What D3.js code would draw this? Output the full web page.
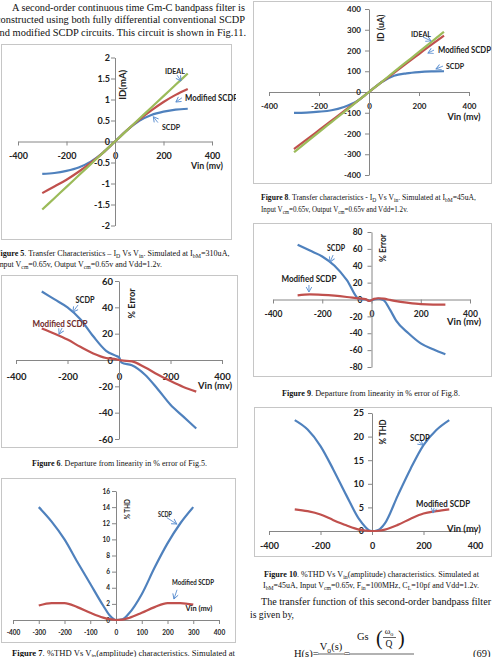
<!DOCTYPE html>
<html>
<head>
<meta charset="utf-8">
<script src="https://cdn.jsdelivr.net/npm/d3@7/dist/d3.min.js"></script>
<style>
  body { margin: 0; background: #fff; overflow: hidden; }
  svg { display: block; }
</style>
</head>
<body>
<div id="page"></div>
<script>
// ---- values ----
const vin = [-300, -250, -200, -150, -100, -50, 0, 50, 100, 150, 200, 250, 300];

// Fig.5  ID (mA) vs Vin (mV)
const idealMA    = [-1.62, -1.35, -1.08, -0.81, -0.54, -0.27, 0, 0.27, 0.54, 0.81, 1.08, 1.35, 1.62];
const modifiedMA = [-1.23, -1.07, -0.91, -0.72, -0.51, -0.27, 0, 0.27, 0.52, 0.74, 0.94, 1.11, 1.25];
const scdpMA     = [-0.77, -0.75, -0.70, -0.62, -0.48, -0.27, 0, 0.27, 0.49, 0.63, 0.71, 0.76, 0.78];

// Fig.8  ID (uA) vs Vin (mV)
const idealUA    = [-290, -242, -193, -145, -97, -48, 0, 48, 97, 145, 193, 242, 290];
const modifiedUA = [-275, -230, -184, -138, -92, -47, 0, 47, 92, 138, 183, 228, 272];
const scdpUA     = [-101, -99, -95, -88, -72, -46, 0, 47, 78, 90, 96, 99, 100];

// Fig.6  % error of Fig.5
const vinErr5      = [-300, -250, -200, -150, -100, -50, -10, 0, 10, 50, 100, 150, 200, 250, 300];
const scdpErr5     = [52, 46, 40, 31, 18, 7, 3, 2, -2, -4, -11, -22, -34, -43, -52];
const modifiedErr5 = [24, 20, 15.5, 10, 5, 1.5, 0.5, 0, -0.3, -1, -5.5, -11, -16, -20.5, -24];

// Fig.9  % error of Fig.8
const vinErr8      = [-300, -250, -200, -150, -100, -50, -25, -8, 10, 28, 50, 75, 100, 150, 200, 250, 300];
const scdpErr8     = [65, 58, 51, 40, 23, 0.5, 0, -1.5, 0, 1, -1, -12, -25, -40, -52, -59, -65];
const modifiedErr8 = [5, 6, 5.5, 4.5, 3, 1.2, 0.5, -1.8, 0.8, 1.5, 1, -0.5, -2, -4, -5.5, -6, -6];

// Fig.7  %THD (310uA)
const vinThd5      = [-300, -250, -200, -150, -100, -50, -25, 0, 25, 50, 100, 150, 200, 250, 300];
const scdpThd5     = [14, 12.2, 10, 7.2, 4.5, 1.8, 0.6, 0, 0.1, 0.8, 3.2, 6.5, 9.5, 12, 14];
const modifiedThd5 = [1.8, 2.1, 2.1, 1.6, 0.9, 0.3, 0.1, 0, 0.05, 0.25, 0.9, 1.6, 2.1, 2.1, 1.9];

// Fig.10 %THD (45uA)
const vinThd8      = [-300, -250, -200, -150, -100, -50, -25, -10, 0, 10, 25, 50, 100, 150, 200, 250, 300];
const scdpThd8     = [23.5, 21.5, 18, 13, 7.6, 2.5, 0.8, 0.1, 0, 0, 0.2, 1.6, 7.5, 13.2, 18.2, 21.4, 23.5];
const modifiedThd8 = [4.6, 4.2, 3.5, 2.3, 1.2, 0.3, 0.1, 0, 0, 0, 0.05, 0.3, 1.3, 2.6, 3.7, 4.2, 4.6];

// tick labels
const vinTicks200 = [-400, -200, 0, 200, 400];
const vinTicks100 = [-400, -300, -200, -100, 0, 100, 200, 300, 400];
const maTicks   = [-2, -1.5, -1, -0.5, 0, 0.5, 1, 1.5, 2];
const uaTicks   = [-400, -300, -200, -100, 0, 100, 200, 300, 400];
const err5Ticks = [-60, -40, -20, 0, 20, 40, 60];
const err8Ticks = [-80, -60, -40, -20, 0, 20, 40, 60, 80];
const thd5Ticks = [0, 2, 4, 6, 8, 10, 12, 14, 16];
const thd8Ticks = [0, 5, 10, 15, 20, 25];

/**********************/
/******* setup        */
/**********************/
const BLUE = "#4f81bd", RED = "#c0504d", GREEN = "#9bbb59";
const sans = "Lato, 'Open Sans', sans-serif";
const serif = "'Liberation Serif', 'DejaVu Serif', serif";

const svg = d3.select("#page").append("svg")
    .attr("width", 492)
    .attr("height", 657);
const defs = svg.append("defs");

defs.append("marker")
    .attr("id", "arrow")
    .attr("markerUnits", "userSpaceOnUse")
    .attr("markerWidth", 8).attr("markerHeight", 8)
    .attr("refX", 5).attr("refY", 0)
    .attr("viewBox", "-1 -4 8 8")
    .attr("orient", "auto")
    .append("path")
    .attr("d", "M0,-2.8 L5,0 L0,2.8")
    .attr("fill", "none")
    .attr("stroke", "#5b8fd0")
    .attr("stroke-width", 0.9);

// text with *bold* and _{sub} markup
function rich(x, y, src, o) {
    const t = svg.append("text")
        .attr("x", x).attr("y", y)
        .attr("text-anchor", o.anchor || "start")
        .style("font-family", o.font || serif)
        .style("font-size", o.size + "px")
        .attr("fill", "#111");
    if (o.len) t.attr("textLength", o.len).attr("lengthAdjust", "spacingAndGlyphs");
    let shift = 0;
    src.split(/(\*[^*]+\*|_\{[^}]+\})/).filter(s => s).forEach(part => {
        if (part.startsWith("_{")) {
            const d = o.size * 0.28;
            t.append("tspan").attr("dy", d - shift).style("font-size", (o.size * 0.72) + "px").text(part.slice(2, -1));
            shift = d;
        } else {
            const s = t.append("tspan").attr("dy", -shift);
            shift = 0;
            if (part[0] === "*") s.style("font-weight", "bold").text(part.slice(1, -1));
            else s.text(part);
        }
    });
    return t;
}

function panel(p) {
    const [bx, by, bw, bh] = p.box;
    const id = "clip-" + p.name;
    defs.append("clipPath").attr("id", id).append("rect")
        .attr("x", bx - 1).attr("y", by - 1)
        .attr("width", bw + (p.clipExtra || 3)).attr("height", bh + 3);
    const g = svg.append("g").attr("clip-path", `url(#${id})`);

    g.append("rect")
        .attr("x", bx + 0.5).attr("y", by + 0.5)
        .attr("width", bw).attr("height", bh)
        .attr("fill", "#fff").attr("stroke", "#c6c6c6");

    const x = d3.scaleLinear().domain(p.xDomain).range(p.xRange);
    const y = d3.scaleLinear().domain(p.yDomain).range(p.yRange);

    const xAxis = g.append("g")
        .attr("transform", `translate(0, ${y(0)})`)
        .call(d3.axisBottom(x).tickValues(p.xTicks).tickFormat(d => d)
            .tickSize(4).tickSizeOuter(0).tickPadding(p.xPad));
    const yAxis = g.append("g")
        .attr("transform", `translate(${x(0)}, 0)`)
        .call(d3.axisLeft(y).tickValues(p.yTicks).tickFormat(d => d)
            .tickSize(4).tickSizeOuter(0).tickPadding(p.yPad));
    [xAxis, yAxis].forEach(a => {
        a.select(".domain").attr("stroke", "#868686");
        a.selectAll(".tick line").attr("stroke", "#868686");
        a.selectAll(".tick text")
            .attr("fill", "#222")
            .style("font-family", sans)
            .style("font-weight", "bold")
            .style("font-size", p.tick + "px");
    });

    const line = d3.line()
        .x(d => x(d[0]))
        .y(d => y(d[1]))
        .curve(d3.curveMonotoneX);
    p.series.forEach(s => {
        g.append("path")
            .datum(d3.zip(s.x, s.y))
            .attr("d", line)
            .attr("fill", "none")
            .attr("stroke", s.color)
            .attr("stroke-width", 2.2)
            .attr("stroke-linejoin", "round");
    });

    p.arrows.forEach(a => {
        g.append("line")
            .attr("x1", x(a[0])).attr("y1", y(a[1]))
            .attr("x2", x(a[2])).attr("y2", y(a[3]))
            .attr("stroke", "#5b8fd0").attr("stroke-width", 0.9)
            .attr("marker-end", "url(#arrow)");
    });

    p.notes.forEach(n => {
        const px = x(n.at[0]), py = y(n.at[1]);
        const t = g.append("text")
            .attr("x", px).attr("y", py).attr("dy", "0.35em")
            .attr("text-anchor", n.anchor || "middle")
            .attr("fill", n.color || "#222")
            .style("font-family", sans)
            .style("font-weight", "bold")
            .style("font-size", n.size + "px")
            .text(n.text);
        if (n.width) t.attr("textLength", n.width).attr("lengthAdjust", "spacingAndGlyphs");
        if (n.rot) t.attr("transform", `rotate(-90, ${px}, ${py})`);
    });
}

/**********************/
/******* panels       */
/**********************/

// Fig.5
panel({
    name: "f5", box: [1, 44, 230, 195], clipExtra: 6,
    xDomain: [-400, 400], xRange: [18, 212],
    yDomain: [-2, 2], yRange: [225.5, 57.5],
    xTicks: vinTicks200, yTicks: maTicks, tick: 9, xPad: 7, yPad: 1,
    series: [
        { x: vin, y: scdpMA, color: BLUE },
        { x: vin, y: modifiedMA, color: RED },
        { x: vin, y: idealMA, color: GREEN }
    ],
    arrows: [[256, 1.58, 272, 1.44], [276, 1.04, 251, 0.94], [177, 0.45, 158, 0.59]],
    notes: [
        { text: "ID(mA)", at: [33, 1.35], rot: true, size: 9.5, width: 30 },
        { text: "IDEAL", at: [247, 1.68], size: 8, width: 20 },
        { text: "Modified SCDP", at: [289, 1.04], anchor: "start", size: 8.5, width: 53 },
        { text: "SCDP", at: [194, 0.345], anchor: "start", size: 8, width: 18 },
        { text: "Vin (mv)", at: [379, -0.58], size: 9.5, width: 32 }
    ]
});

// Fig.8
panel({
    name: "f8", box: [253, 1, 238, 182],
    xDomain: [-400, 400], xRange: [269, 469],
    yDomain: [-400, 400], yRange: [175, 9],
    xTicks: vinTicks200, yTicks: uaTicks, tick: 8, xPad: 7, yPad: 4,
    series: [
        { x: vin, y: scdpUA, color: BLUE },
        { x: vin, y: modifiedUA, color: RED },
        { x: vin, y: idealUA, color: GREEN }
    ],
    arrows: [[216, 265, 248, 246], [260, 202, 236, 188], [296, 125, 268, 111]],
    notes: [
        { text: "ID (uA)", at: [48, 308], rot: true, size: 9, width: 27 },
        { text: "IDEAL", at: [208, 280], size: 8, width: 20 },
        { text: "Modified SCDP", at: [276, 202], anchor: "start", size: 8.5, width: 53 },
        { text: "SCDP", at: [308, 125], anchor: "start", size: 8, width: 18 },
        { text: "Vin (mv)", at: [380, -120], size: 9.5, width: 33 }
    ]
});

// Fig.6
panel({
    name: "f6", box: [1, 275, 236, 172],
    xDomain: [-400, 400], xRange: [16, 222],
    yDomain: [-60, 60], yRange: [439, 281],
    xTicks: vinTicks200, yTicks: err5Ticks, tick: 9.5, xPad: 9.5, yPad: 2,
    series: [
        { x: vinErr5, y: scdpErr5, color: BLUE },
        { x: vinErr5, y: modifiedErr5, color: RED }
    ],
    arrows: [[-159, 41.8, -179, 36.4], [-221, 24.3, -233, 19.7]],
    notes: [
        { text: "% Error", at: [50, 43], rot: true, size: 9.5, width: 30 },
        { text: "SCDP", at: [-132, 45.6], size: 9, width: 19 },
        { text: "Modified SCDP", at: [-229, 27.3], size: 9, width: 55, color: "#6e2a2a" },
        { text: "Vin (mv)", at: [373, -19.7], size: 10, width: 34 }
    ]
});

// Fig.9
panel({
    name: "f9", box: [253, 223, 238, 153],
    xDomain: [-400, 400], xRange: [273, 470],
    yDomain: [-80, 80], yRange: [367, 232],
    xTicks: vinTicks200, yTicks: err8Ticks, tick: 8.5, xPad: 7.5, yPad: 5,
    series: [
        { x: vinErr8, y: scdpErr8, color: BLUE },
        { x: vinErr8, y: modifiedErr8, color: RED }
    ],
    arrows: [[-156, 52.7, -168.5, 44.4], [-254, 17.2, -254, 8.9]],
    notes: [
        { text: "% Error", at: [47, 61], rot: true, size: 9.5, width: 28 },
        { text: "SCDP", at: [-144, 61], size: 8.5, width: 18 },
        { text: "Modified SCDP", at: [-254, 24.3], size: 9, width: 55 },
        { text: "Vin (mv)", at: [376, -25.5], size: 10, width: 34 }
    ]
});

// Fig.7
panel({
    name: "f7", box: [1, 478, 234, 164],
    xDomain: [-400, 400], xRange: [13, 219],
    yDomain: [0, 16], yRange: [620, 491],
    xTicks: vinTicks100, yTicks: thd5Ticks, tick: 6.5, xPad: 6.5, yPad: 2,
    series: [
        { x: vinThd5, y: scdpThd5, color: BLUE },
        { x: vinThd5, y: modifiedThd5, color: RED }
    ],
    arrows: [[197, 12.7, 236, 11.9], [237, 3.75, 225, 2.6]],
    notes: [
        { text: "% THD", at: [43, 13.75], rot: true, size: 7, width: 20 },
        { text: "SCDP", at: [190, 13.1], size: 6.5, width: 14 },
        { text: "Modified SCDP", at: [299, 4.6], size: 7, width: 42 },
        { text: "Vin (mv)", at: [322, 1.4], size: 7, width: 27 }
    ]
});

// Fig.10
panel({
    name: "f10", box: [254, 407, 237, 149],
    xDomain: [-400, 400], xRange: [269, 475],
    yDomain: [0, 25], yRange: [531, 413],
    xTicks: vinTicks200, yTicks: thd8Ticks, tick: 9, xPad: 8, yPad: 4,
    series: [
        { x: vinThd8, y: scdpThd8, color: BLUE },
        { x: vinThd8, y: modifiedThd8, color: RED }
    ],
    arrows: [[182, 18.9, 198, 18.2], [241, 4.9, 237, 3.8]],
    notes: [
        { text: "% THD", at: [43, 21], rot: true, size: 9.5, width: 25 },
        { text: "SCDP", at: [186, 19.7], size: 8.5, width: 20 },
        { text: "Modified SCDP", at: [276, 5.7], size: 9, width: 54 },
        { text: "Vin (mv)", at: [357, 0.6], size: 10, width: 34 }
    ]
});

/**********************/
/******* page text    */
/**********************/
rich(12, 10.5, "A second-order continuous time Gm-C bandpass filter is", { size: 10.8, len: 233 });
rich(-4, 23, "constructed using both fully differential conventional SCDP", { size: 10.8, len: 249 });
rich(-5, 35.5, "and modified SCDP circuits. This circuit is shown in Fig.11.", { size: 10.8, len: 251 });

rich(-4.5, 255.5, "*Figure 5*.   Transfer Characteristics – I_{D} Vs V_{in}. Simulated at I_{bM}=310uA,", { size: 8, len: 234 });
rich(-3, 266.5, "Input V_{cm}=0.65v, Output V_{cm}=0.65v and Vdd=1.2v.", { size: 8, len: 165 });
rich(32, 466, "*Figure 6*.   Departure from linearity in % error of Fig.5.", { size: 8, len: 175 });
rich(12, 656, "*Figure 7*.   %THD Vs V_{in}(amplitude) characteristics. Simulated at", { size: 8, len: 223 });

rich(261, 199.5, "*Figure 8*.   Transfer characteristics - I_{D} Vs V_{in}. Simulated at I_{bM}=45uA,", { size: 8, len: 215 });
rich(261, 211.5, "Input V_{cm}=0.65v, Output V_{cm}=0.65v and Vdd=1.2v.", { size: 8, len: 147 });
rich(282, 395.5, "*Figure 9*.   Departure from linearity in % error of Fig.8.", { size: 8, len: 178 });
rich(264, 577, "*Figure 10*.   %THD Vs V_{in}(amplitude) characteristics. Simulated at", { size: 8, len: 215 });
rich(263, 588, "I_{bM}=45uA, Input V_{cm}=0.65v, F_{in}=100MHz, C_{L}=10pf and Vdd=1.2v.", { size: 8, len: 216 });

rich(261, 605, "The transfer function of this second-order bandpass filter", { size: 10.8, len: 230 });
rich(250, 617.5, "is given by,", { size: 10.8, len: 44 });

// equation (69)
rich(294, 657, "H(s)=", { size: 10.5 });
rich(331, 650, "V_{o}(s)", { size: 10.5, anchor: "middle" });
rich(344, 657, "=", { size: 10.5 });
rich(357, 640, "Gs", { size: 10.5 });
rich(389, 634, "ω_{o}", { size: 8.5, anchor: "middle" });
rich(389, 647, "Q", { size: 9.5, anchor: "middle" });
rich(376, 645, "(", { size: 20 }).style("font-weight", "200");
rich(398, 645, ")", { size: 20 }).style("font-weight", "200");
rich(473, 657, "(69)", { size: 10.5 });
[[318, 345, 654], [349, 414, 654], [383, 396, 637.5]].forEach(l => {
    svg.append("line")
        .attr("x1", l[0]).attr("x2", l[1])
        .attr("y1", l[2]).attr("y2", l[2])
        .attr("stroke", "#222").attr("stroke-width", 0.7);
});
</script>
</body>
</html>
